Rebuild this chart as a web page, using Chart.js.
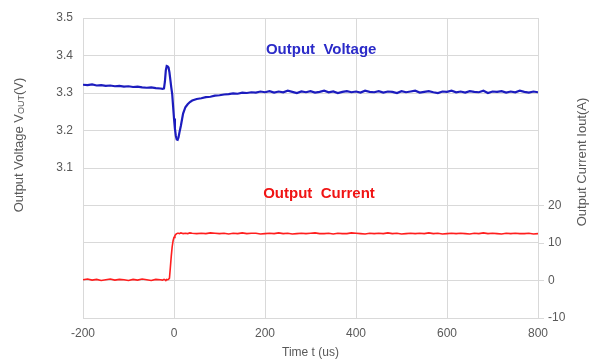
<!DOCTYPE html>
<html>
<head>
<meta charset="utf-8">
<script src="https://cdn.jsdelivr.net/npm/chart.js@4"></script>
<style>
  html, body { margin:0; padding:0; background:#fff; }
  #wrap { width:589px; height:359px; }
</style>
</head>
<body>
<div id="wrap"><canvas id="chart" width="589" height="359"></canvas></div>
<script>
(function(){
  // ---------- data ----------
  const times = [
    -200,-190,-180,-170,-160,-150,-140,-130,-120,-110,-100,-90,-80,-70,-60,-50,-40,-30,
    -25,-22,-20,-18,-16,-14,-12,-10,-8,-6,-4,-2,0,2,4,6,8,10,12,15,18,20,25,30,35,40,
    50,60,70,80,90,100,110,120,130,140,150,160,170,180,190,200,
    210,220,230,240,250,260,270,280,290,300,
    310,320,330,340,350,360,370,380,390,400,
    410,420,430,440,450,460,470,480,490,500,
    510,520,530,540,550,560,570,580,590,600,
    610,620,630,640,650,660,670,680,690,700,
    710,720,730,740,750,760,770,780,790,800
  ];

  const voltage = [
    3.322,3.321,3.323,3.320,3.321,3.319,3.320,3.318,3.319,3.317,3.318,3.316,3.317,3.315,3.314,3.315,3.313,3.312,
    3.311,3.312,3.330,3.360,3.372,3.371,3.368,3.355,3.335,3.315,3.298,3.265,3.232,3.205,3.186,3.176,3.175,3.182,3.195,3.212,3.232,3.245,3.262,3.270,3.276,3.280,
    3.284,3.286,3.289,3.290,3.293,3.294,3.296,3.297,3.299,3.298,3.301,3.300,3.302,3.301,3.304,3.302,
    3.305,3.301,3.304,3.302,3.306,3.303,3.300,3.304,3.302,3.305,
    3.301,3.303,3.306,3.302,3.304,3.300,3.303,3.305,3.302,3.304,
    3.301,3.306,3.303,3.302,3.305,3.301,3.304,3.303,3.300,3.305,
    3.302,3.304,3.306,3.301,3.303,3.305,3.302,3.300,3.304,3.303,
    3.306,3.302,3.304,3.301,3.305,3.303,3.302,3.306,3.300,3.304,
    3.303,3.305,3.301,3.304,3.302,3.306,3.303,3.301,3.304,3.302
  ];

  const current = [
    0.2,0.4,0.1,0.3,0.0,0.2,0.4,0.1,0.3,0.2,0.0,0.3,0.1,0.4,0.2,0.0,0.3,0.2,
    0.1,0.3,0.2,0.0,0.3,0.2,0.3,0.6,3.5,6.5,9.0,10.6,11.5,12.0,12.3,12.5,12.6,12.6,12.5,12.7,12.6,12.5,12.6,12.5,12.7,12.6,
    12.5,12.6,12.5,12.7,12.6,12.5,12.6,12.4,12.6,12.5,
    12.7,12.5,12.6,12.6,12.4,12.5,12.6,12.5,12.7,12.5,
    12.6,12.4,12.5,12.6,12.5,12.6,12.7,12.5,12.5,12.6,
    12.4,12.6,12.5,12.5,12.7,12.6,12.5,12.4,12.6,12.5,
    12.6,12.5,12.7,12.5,12.6,12.4,12.5,12.6,12.5,12.6,
    12.5,12.7,12.5,12.6,12.4,12.5,12.6,12.5,12.6,12.5,
    12.4,12.6,12.5,12.7,12.5,12.6,12.5,12.4,12.6,12.5,
    12.6,12.5,12.5,12.6,12.4,12.5
  ];

  const voltTicks = ["3.1","3.2","3.3","3.4","3.5"];
  const currTicks = ["-10","0","10","20"];

  const GRID = "#d9d9d9";
  const TICK = "#595959";
  const FONT = "'Liberation Sans', Arial, sans-serif";

  // ---------- text labels + axis titles ----------
  const textPlugin = {
    id: "texts",
    afterDraw(chart){
      const ctx = chart.ctx;
      const x = chart.scales.x, y = chart.scales.y, y1 = chart.scales.y1;
      ctx.save();
      ctx.textBaseline = "middle";
      ctx.textAlign = "left";

      ctx.font = "bold 15px " + FONT;
      ctx.fillStyle = "#2b2bc8";
      ctx.fillText("Output  Voltage", x.getPixelForValue(202), y.getPixelForValue(3.415));
      ctx.fillStyle = "#f01414";
      ctx.fillText("Output  Current", x.getPixelForValue(196), y1.getPixelForValue(23));

      // x title
      ctx.fillStyle = TICK;
      ctx.font = "12px " + FONT;
      ctx.textAlign = "center";
      ctx.fillText("Time t (us)", (chart.chartArea.left + chart.chartArea.right)/2, 353);

      // left title with subscript
      ctx.save();
      ctx.translate(19, 145);
      ctx.rotate(-Math.PI/2);
      const a = "Output Voltage V", b = "OUT", c = "(V)";
      ctx.font = "13px " + FONT;
      const wa = ctx.measureText(a).width, wc = ctx.measureText(c).width;
      ctx.font = "9px " + FONT;
      const wb = ctx.measureText(b).width;
      let px = -(wa + wb + wc)/2;
      ctx.textAlign = "left";
      ctx.font = "13px " + FONT;
      ctx.fillText(a, px, 0); px += wa;
      ctx.font = "9px " + FONT;
      ctx.fillText(b, px, 3); px += wb;
      ctx.font = "13px " + FONT;
      ctx.fillText(c, px, 0);
      ctx.restore();

      // right title
      ctx.save();
      ctx.translate(582, 162);
      ctx.rotate(-Math.PI/2);
      ctx.textAlign = "center";
      ctx.font = "13px " + FONT;
      ctx.fillText("Output Current Iout(A)", 0, 0);
      ctx.restore();

      ctx.restore();
    }
  };

  new Chart(document.getElementById("chart"), {
    type: "line",
    data: {
      datasets: [
        { label:"Output Voltage", data: times.map((t,i)=>({x:t, y:voltage[i]})), yAxisID:"y",
          borderColor:"#1c1cbe", borderWidth:2.2, pointRadius:0, tension:0 },
        { label:"Output Current", data: times.map((t,i)=>({x:t, y:current[i]})), yAxisID:"y1",
          borderColor:"#ff1e1e", borderWidth:1.6, pointRadius:0, tension:0 }
      ]
    },
    options: {
      responsive:false,
      animation:false,
      layout:{ padding:{ top:18, left:0, right:0, bottom:0 } },
      plugins:{ legend:{ display:false }, tooltip:{ enabled:false } },
      scales:{
        x:{
          type:"linear", min:-200, max:800,
          ticks:{ stepSize:200, color:TICK, font:{ family:FONT, size:12 }, padding:8, maxRotation:0 },
          grid:{ color:GRID, drawTicks:false },
          border:{ color:GRID },
          afterFit(s){ s.height = 41; }
        },
        y:{
          position:"left", min:2.7, max:3.5,
          ticks:{ stepSize:0.1, color:TICK, font:{ family:FONT, size:12 }, padding:10,
            callback:(v)=> voltTicks.includes(Number(v).toFixed(1)) ? Number(v).toFixed(1) : "" },
          grid:{ color:GRID, drawTicks:false },
          border:{ color:GRID },
          afterFit(s){ s.width = 83; }
        },
        y1:{
          position:"right", min:-10, max:70,
          ticks:{ stepSize:10, color:TICK, font:{ family:FONT, size:12 }, padding:4,
            callback:(v)=> currTicks.includes(String(Math.round(v))) ? String(Math.round(v)) : "" },
          grid:{ drawOnChartArea:false, drawTicks:true, tickLength:6,
            color:(c)=> (c.tick && c.tick.value <= 20) ? GRID : "rgba(0,0,0,0)" },
          border:{ display:false },
          afterFit(s){ s.width = 51; }
        }
      }
    },
    plugins:[textPlugin]
  });
})();
</script>
</body>
</html>
